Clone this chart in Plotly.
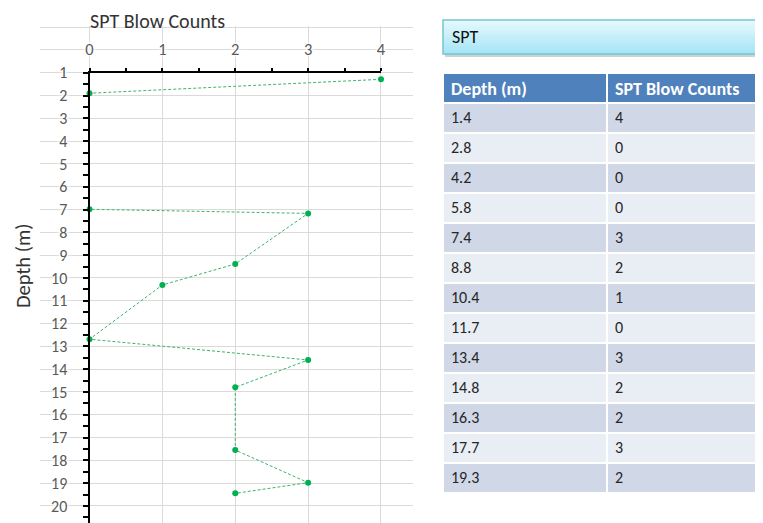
import plotly.graph_objects as go

# ---------------- data ----------------
plot_blow_counts = [4, 0, 0, 3, 2, 1, 0, 3, 2, 2, 3, 2]
plot_depths = [1.29, 1.90, 6.99, 7.17, 9.39, 10.31, 12.69, 13.60, 14.80, 17.55, 18.98, 19.45]

table_depths = ["1.4", "2.8", "4.2", "5.8", "7.4", "8.8", "10.4", "11.7", "13.4", "14.8", "16.3", "17.7", "19.3"]
table_blows = ["4", "0", "0", "0", "3", "2", "1", "0", "3", "2", "2", "3", "2"]
table_headers = ["Depth (m)", "SPT Blow Counts"]

x_tick_values = [0, 1, 2, 3, 4]
y_tick_values = list(range(1, 21))

# ---------------- geometry helpers (window pixel -> paper fraction) ----------------
OFF = 8                 # default page body margin
W, H = 763 - OFF, 523
def px(x):
    return (x - OFF) / W
def py(y):
    return 1 - (y - OFF) / H

PX_PER_Y = 22.8
Y1_PX = 72.7                     # window y of depth = 1
BOTTOM_PX = H + OFF              # window y of paper bottom
Y_BOTTOM = 1 + (BOTTOM_PX - Y1_PX) / PX_PER_Y

FONT = "Calibri, Carlito, Lato, 'Open Sans', sans-serif"
LABEL_COLOR = "#595959"
GRID_COLOR = "#DADADA"
HALO = "0 0 2px white, 0 0 3px white, 0 0 4px white, 0 0 5px white, 0 0 5px white"

fig = go.Figure()

# background grid subplot (xy) - grid only
fig.add_trace(go.Scatter(x=[None], y=[None], xaxis="x", yaxis="y", showlegend=False, hoverinfo="skip"))

# data subplot (x2y2)
fig.add_trace(go.Scatter(
    x=plot_blow_counts, y=plot_depths, xaxis="x2", yaxis="y2",
    mode="lines+markers",
    line=dict(color="#3DB36E", width=1, dash="3px,2px"),
    marker=dict(color="#00B050", size=6),
    cliponaxis=False, showlegend=False,
))

# table
n = len(table_depths)
band = ["#D0D8E8" if i % 2 == 0 else "#E9EDF4" for i in range(n)]
fig.add_trace(go.Table(
    domain=dict(x=[px(443), 1.0], y=[0, py(73)]),
    columnwidth=[164, 156],
    header=dict(values=table_headers,
                fill_color="#4F81BD", line=dict(color="white", width=1.5),
                font=dict(family=FONT, size=18, color="white", weight="bold"),
                align="left", height=30),
    cells=dict(values=[table_depths, table_blows],
               fill_color=[band, band], line=dict(color="white", width=1.5),
               font=dict(family=FONT, size=16, color="#262626"),
               align="left", height=30),
))

top_grid_px = 26
fig.update_layout(
    template="none",
    width=W, height=H,
    margin=dict(l=0, r=0, t=0, b=0, pad=0, autoexpand=False),
    paper_bgcolor="white", plot_bgcolor="rgba(0,0,0,0)",
    showlegend=False,
    xaxis=dict(domain=[px(40), px(413)], range=[-0.68, 4.44], dtick=1, tick0=0,
               showgrid=True, gridcolor=GRID_COLOR, gridwidth=1, zeroline=False,
               showticklabels=False, ticks="", showline=False, fixedrange=True, automargin=False),
    yaxis=dict(domain=[0, py(top_grid_px)],
               range=[Y_BOTTOM, 1 - (Y1_PX - top_grid_px) / PX_PER_Y],
               dtick=1, tick0=0, showgrid=True, gridcolor=GRID_COLOR, gridwidth=1,
               zeroline=False, showticklabels=False, ticks="", showline=False,
               fixedrange=True, automargin=False),
    xaxis2=dict(domain=[px(89.5), px(381)], range=[0, 4], anchor="y2", side="top",
                tickmode="array", tickvals=x_tick_values,
                showgrid=False, zeroline=False, showline=True, linecolor="black", linewidth=2,
                ticks="outside", ticklen=3, tickwidth=2, tickcolor="black",
                minor=dict(dtick=0.5, ticks="outside", ticklen=3, tickwidth=2, tickcolor="black", showgrid=False),
                tickfont=dict(family=FONT, size=16.5, color=LABEL_COLOR, shadow=HALO), ticklabelstandoff=6,
                fixedrange=True, automargin=False),
    yaxis2=dict(domain=[0, py(Y1_PX)], range=[Y_BOTTOM, 0.999], anchor="x2",
                tickmode="array", tickvals=y_tick_values,
                showgrid=False, zeroline=False, showline=True, linecolor="black", linewidth=2,
                ticks="outside", ticklen=5, tickwidth=2, tickcolor="black",
                minor=dict(dtick=0.5, tick0=0, ticks="outside", ticklen=5, tickwidth=2, tickcolor="black", showgrid=False),
                tickfont=dict(family=FONT, size=16, color=LABEL_COLOR, shadow=HALO), ticklabelstandoff=12,
                fixedrange=True, automargin=False),
)

# chart title and axis title
annotations = [
    dict(text="SPT Blow Counts", x=px(88), y=py(21), xref="paper", yref="paper",
         xanchor="left", yanchor="middle", showarrow=False,
         font=dict(family=FONT, size=20, color="#333333")),
    dict(text="Depth (m)", x=px(23), y=py(266), xref="paper", yref="paper", textangle=-90,
         xanchor="center", yanchor="middle", showarrow=False,
         font=dict(family=FONT, size=20.5, color="#333333")),
    dict(text="SPT", x=px(450), y=py(37), xref="paper", yref="paper",
         xanchor="left", yanchor="middle", showarrow=False,
         font=dict(family=FONT, size=18, color="#111111")),
]

# "SPT" header box with vertical gradient
shapes = []
box_top, box_bot, box_left = 20, 54, 443
shapes.append(dict(type="rect", xref="paper", yref="paper", x0=px(box_left + 2), x1=1.05,
                   y0=py(box_bot + 3), y1=py(box_bot - 2), fillcolor="#CFCFD8", line=dict(width=0), layer="below"))
top_rgb = (0xE4, 0xF8, 0xFD)
bot_rgb = (0xA6, 0xE5, 0xF6)
steps = 14
for i in range(steps):
    t = i / (steps - 1)
    c = tuple(round(a + (b - a) * t) for a, b in zip(top_rgb, bot_rgb))
    y0 = box_top + (box_bot - box_top) * i / steps
    y1 = box_top + (box_bot - box_top) * (i + 1) / steps
    shapes.append(dict(type="rect", xref="paper", yref="paper", x0=px(box_left), x1=1.05,
                       y0=py(y1 + 0.5), y1=py(y0), fillcolor="rgb(%d,%d,%d)" % c,
                       line=dict(width=0), layer="below"))
shapes.append(dict(type="rect", xref="paper", yref="paper", x0=px(box_left), x1=1.05,
                   y0=py(box_bot), y1=py(box_top), fillcolor="rgba(0,0,0,0)",
                   line=dict(color="#74C6CB", width=1.5)))

fig.update_layout(annotations=annotations, shapes=shapes)

fig.write_html("out.html")
